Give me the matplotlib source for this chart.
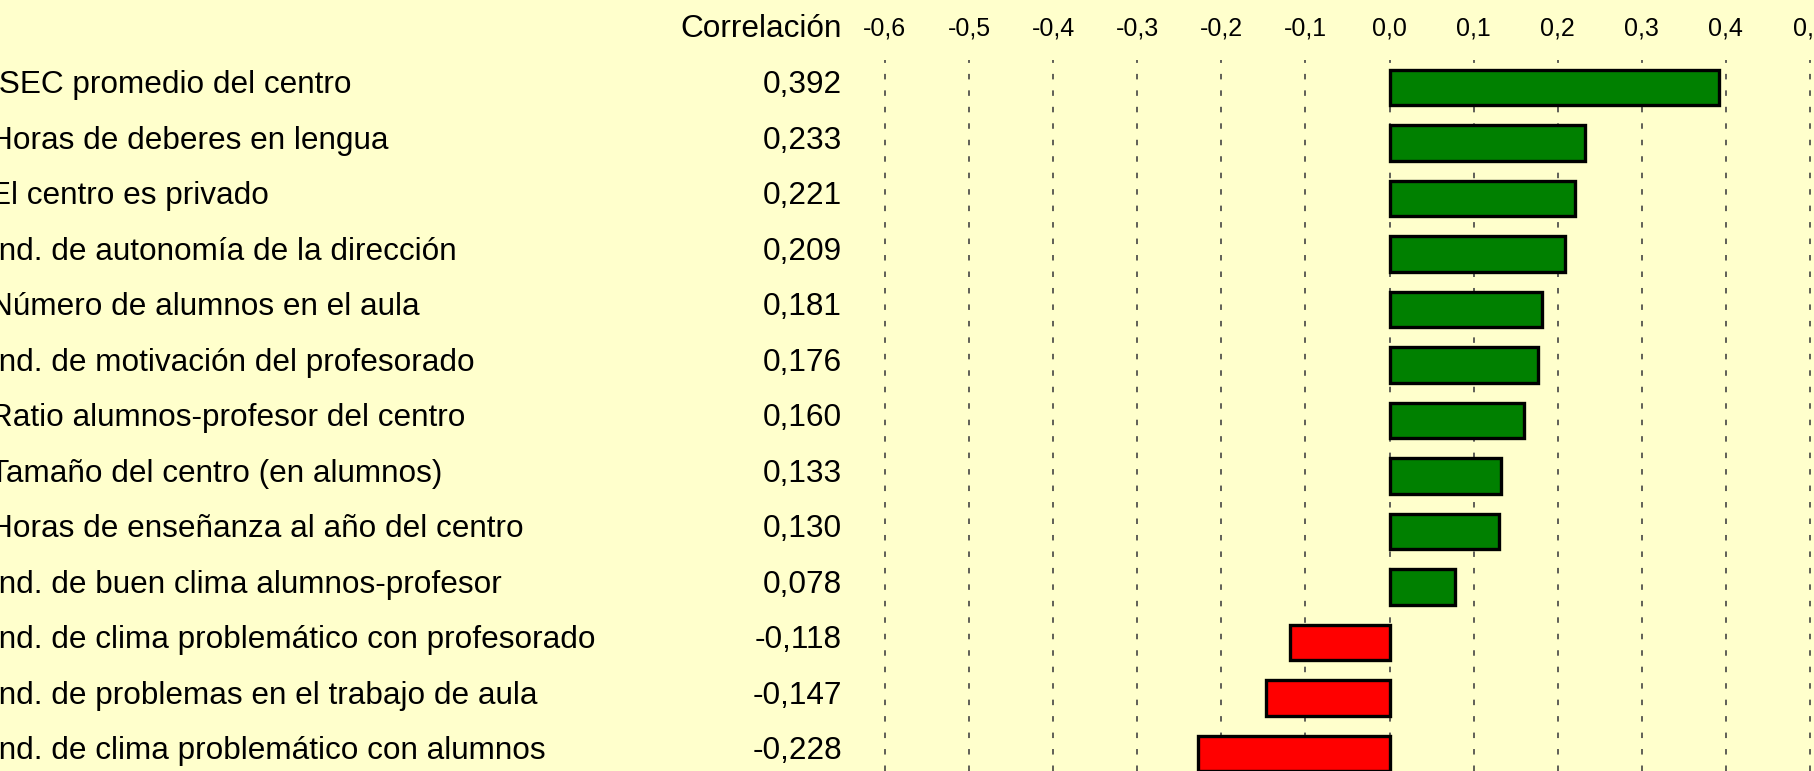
import matplotlib
matplotlib.use("Agg")
import matplotlib.pyplot as plt
from matplotlib.transforms import blended_transform_factory

# Data
labels = [
    "ISEC promedio del centro",
    "Horas de deberes en lengua",
    "El centro es privado",
    "Ind. de autonomía de la dirección",
    "Número de alumnos en el aula",
    "Ind. de motivación del profesorado",
    "Ratio alumnos-profesor del centro",
    "Tamaño del centro (en alumnos)",
    "Horas de enseñanza al año del centro",
    "Ind. de buen clima alumnos-profesor",
    "Ind. de clima problemático con profesorado",
    "Ind. de problemas en el trabajo de aula",
    "Ind. de clima problemático con alumnos",
]
correlations = [0.392, 0.233, 0.221, 0.209, 0.181, 0.176, 0.160,
                0.133, 0.130, 0.078, -0.118, -0.147, -0.228]
tick_values = [-0.6, -0.5, -0.4, -0.3, -0.2, -0.1, 0.0, 0.1, 0.2, 0.3, 0.4, 0.5]

W, H = 1814, 771
bg = "#FFFFCC"
plt.rcParams['font.family'] = ['Liberation Sans', 'DejaVu Sans']

fig = plt.figure(figsize=(W / 100, H / 100), dpi=100, facecolor=bg)

# axes covers the full width; top edge at 60 px where gridlines begin
ax = fig.add_axes([0, 0, 1, 1 - 60 / H])
ax.set_facecolor(bg)

# x mapping: 0.0 at 1389.5 px, 0.1 every 84.1 px
x0, per = 1389.5, 841.0
ax.set_xlim(-x0 / per, (W - x0) / per)
# rows: first centre at 87.5 px, spacing 55.5 px
y0, step = 87.5, 55.5
ax.set_ylim((H - y0) / step, (60 - y0) / step)

rows = list(range(len(labels)))
colors = ["#008000" if v >= 0 else "#FF0000" for v in correlations]
ax.barh(rows, correlations, height=0.632, color=colors, edgecolor="black",
        linewidth=2.4, zorder=3)

ax.set_xticks(tick_values)
ax.set_xticklabels([f"{v:.1f}".replace(".", ",") for v in tick_values], fontsize=18)
ax.xaxis.tick_top()
ax.tick_params(axis="x", length=0, pad=14)
ax.set_yticks([])
# dashed vertical gridlines (about 5.5 px on, 11 px off)
ax.grid(axis="x", color="#444444", linestyle=(0, (5.5 / 1.67, 11 / 1.67)),
        linewidth=1.2, zorder=0)
for s in ax.spines.values():
    s.set_visible(False)

trans = blended_transform_factory(ax.transAxes, ax.transData)
for i, (lab, v) in enumerate(zip(labels, correlations)):
    ax.text(-9.5 / W, i + 0.105, lab, transform=trans, ha="left", va="baseline",
            fontsize=22.7)
    ax.text(842 / W, i + 0.105, f"{v:.3f}".replace(".", ","), transform=trans,
            ha="right", va="baseline", fontsize=22.7)

ax.text(842 / W, (37.3 - y0) / step, "Correlación", transform=trans,
        ha="right", va="baseline", fontsize=22.7)

fig.savefig("out.png", dpi=100, facecolor=bg)
